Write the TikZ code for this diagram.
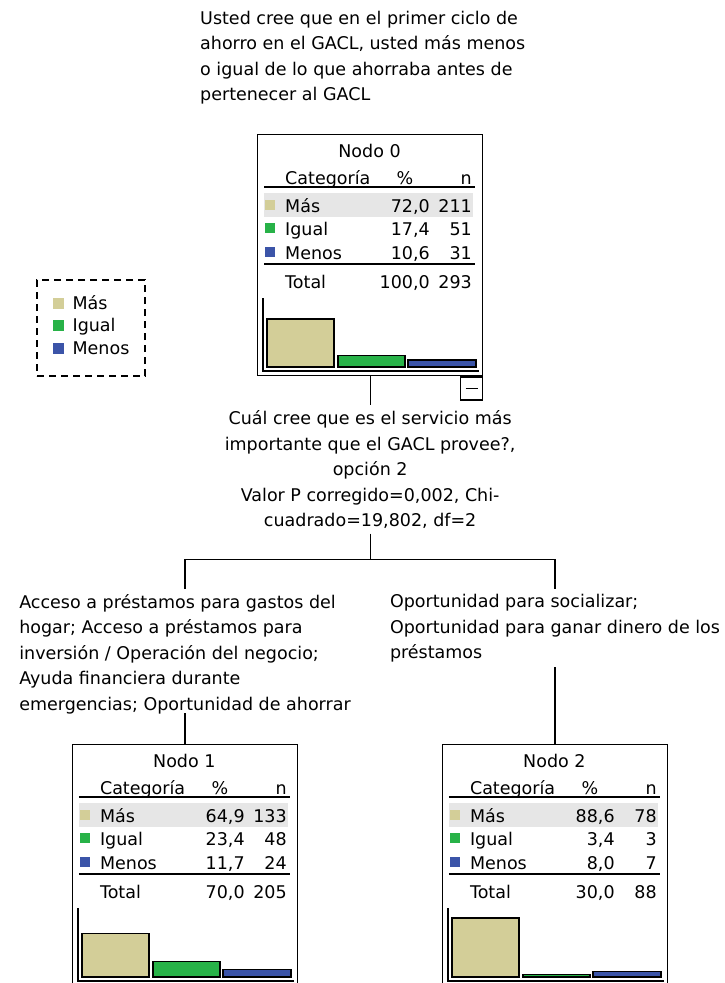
\documentclass[tikz,border=0pt]{standalone}
\usepackage{fontspec}
\setmainfont{DejaVu Sans}
\usetikzlibrary{positioning}

\definecolor{mas}{RGB}{211,206,152}
\definecolor{igual}{RGB}{40,178,72}
\definecolor{menos}{RGB}{59,84,168}
\definecolor{banda}{RGB}{230,230,230}

% swatch used in the legend
\newcommand{\muestra}[1]{\textcolor{#1}{\rule[0.5pt]{11pt}{11pt}}\hspace{9pt}}

% table and bar chart of one tree node, drawn from the box's top left corner
% #1 title, #2/#3 Más, #4/#5 Igual, #6/#7 Menos, #8/#9 Total
\newcommand{\tablanodo}[9]{%
  \pgfmathsetmacro\hmas{66.7*#3/#9}
  \pgfmathsetmacro\higual{66.7*#5/#9}
  \pgfmathsetmacro\hmenos{66.7*#7/#9}
  \node[celda, anchor=base] at (112.5,23) {#1};
  \node[celda, anchor=base west] at (28,50) {Categoría};
  \node[celda, anchor=base] at (148,50) {\%};
  \node[celda, anchor=base east] at (215,50) {n};
  \draw[regla] (7,53) -- (218,53);
  \fill[banda] (7,59) rectangle (216,83);
  \foreach \b/\c/\t/\p/\n in {78/mas/Más/{#2}/#3, 101/igual/Igual/{#4}/#5, 125/menos/Menos/{#6}/#7} {
    \fill[\c] (8,\b-12) rectangle (18,\b-2);
    \node[celda, anchor=base west] at (28,\b) {\t};
    \node[celda, anchor=base east] at (173,\b) {\p};
    \node[celda, anchor=base east] at (215,\b) {\n};
  }
  \draw[regla] (7,130) -- (218,130);
  \node[celda, anchor=base west] at (28,154) {Total};
  \node[celda, anchor=base east] at (173,154) {#8};
  \node[celda, anchor=base east] at (215,154) {#9};
  % bars
  \draw[barra, fill=mas] (10,233) rectangle (77,{233-\hmas});
  \draw[barra, fill=igual] (81,233) rectangle (148,{233-\higual});
  \draw[barra, fill=menos] (151,233) rectangle (219,{233-\hmenos});
  \draw[eje] (6,164) -- (6,237) -- (222,237);
}

\begin{document}
\begin{tikzpicture}[x=1pt, y=-1pt,
    texto/.style={font=\fontsize{17.5}{25.5}\selectfont, inner xsep=0pt, inner ysep=5pt},
    celda/.style={font=\fontsize{17.5}{21}\selectfont, inner sep=0pt},
    caja/.style={draw, line width=1.3pt, minimum width=225pt, minimum height=241pt, inner sep=0pt},
    plegar/.style={draw, line width=1.3pt, minimum width=22pt, minimum height=23pt, inner sep=0pt},
    leyenda/.style={draw, dash pattern=on 7pt off 5pt, line width=1.3pt, minimum width=108pt,
      minimum height=96pt, align=left, font=\fontsize{17.5}{22.5}\selectfont},
    regla/.style={line width=1.5pt},
    barra/.style={draw, line width=1.4pt},
    eje/.style={line width=1.3pt},
    linea/.style={line width=1.3pt}]

    \useasboundingbox (0,0) rectangle (724,983);
    \clip (0,0) rectangle (724,983);

    % Question of the root
    \node[texto, align=left, anchor=north west] (q0) at (200,6)
        {Usted cree que en el primer ciclo de\\ahorro en el GACL, usted más menos\\o igual de lo que ahorraba antes de\\pertenecer al GACL};

    % Legend
    \node[leyenda] (ley) at (91,328)
        {\muestra{mas}Más\\\muestra{igual}Igual\\\muestra{menos}Menos\\[-16pt]\mbox{}};

    % Tree nodes
    \node[caja, anchor=north west] (n0) at (257,134) {};
    \node[plegar, anchor=north east] (pl0) at (n0.south east) {\rule{12pt}{1.5pt}};
    \node[texto, align=center, below=29pt of n0] (q1)
        {Cuál cree que es el servicio más\\importante que el GACL provee?,\\opción 2\\Valor P corregido=0,002, Chi-\\cuadrado=19,802, df=2};
    \node[texto, align=left, anchor=north] (b1) at (185,589)
        {Acceso a préstamos para gastos del\\hogar; Acceso a préstamos para\\inversión / Operación del negocio;\\Ayuda financiera durante\\emergencias; Oportunidad de ahorrar};
    \node[texto, align=left, anchor=north] (b2) at (555,589)
        {Oportunidad para socializar;\\Oportunidad para ganar dinero de los\\préstamos};
    \node[caja, anchor=north] (n1) at (185,744) {};
    \node[caja, anchor=north] (n2) at (555,744) {};

    \begin{scope}[shift={(n0.north west)}]
        \tablanodo{Nodo 0}{72,0}{211}{17,4}{51}{10,6}{31}{100,0}{293}
    \end{scope}
    \begin{scope}[shift={(n1.north west)}]
        \tablanodo{Nodo 1}{64,9}{133}{23,4}{48}{11,7}{24}{70,0}{205}
    \end{scope}
    \begin{scope}[shift={(n2.north west)}]
        \tablanodo{Nodo 2}{88,6}{78}{3,4}{3}{8,0}{7}{30,0}{88}
    \end{scope}

    % Edges
    \draw[linea] (n0.south) -- (q1.north);
    \draw[linea] (q1.south) -- ++(0,26) coordinate (rama);
    \draw[linea] (b1.north) |- (rama) -| (b2.north);
    \draw[linea, shorten <=-6pt] (b1.south) -- (n1.north);
    \draw[linea] (b2.south) -- (n2.north);

\end{tikzpicture}
\end{document}
